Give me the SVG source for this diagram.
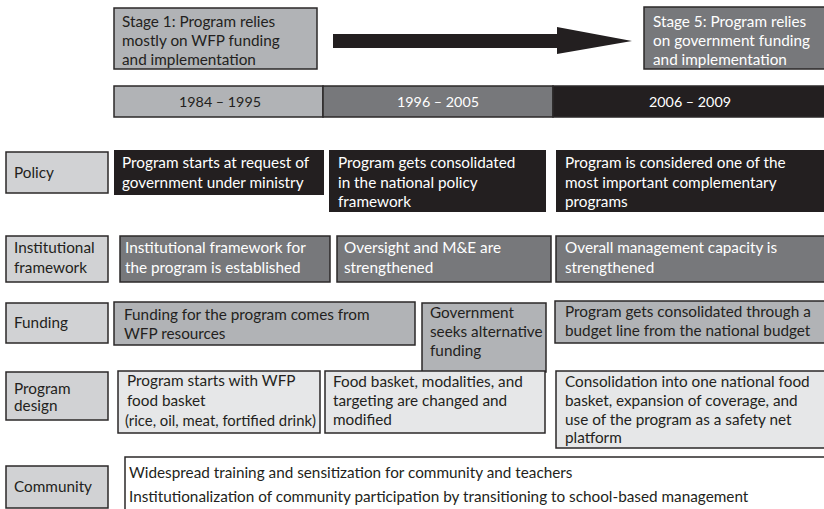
<svg xmlns="http://www.w3.org/2000/svg" width="824" height="509" viewBox="0 0 824 509">
<style>
text{font-family:Lato,"Liberation Sans",sans-serif;font-size:15.3px;fill:#231f20}
.w{fill:#ffffff}
.mid{text-anchor:middle;font-size:14.3px}
.bx{stroke:#2b2829;stroke-width:1.5}
.lbl{fill:#d1d2d4}
.lg{fill:#b1b3b6}
.dg{fill:#77787b}
.bk{fill:#231f20}
.xl{fill:#e6e7e8}
</style>
<rect width="824" height="509" fill="#ffffff"/>
<g id="stage1"><rect class="bx lg" x="114" y="8" width="203" height="61"/>
<text x="122" y="27">Stage 1: Program relies</text><text x="122" y="46">mostly on WFP funding</text><text x="122" y="65">and implementation</text></g>
<g id="stage5"><rect class="bx dg" x="644" y="7" width="182" height="62"/>
<text class="w" x="653" y="27">Stage 5: Program relies</text><text class="w" x="653" y="46">on government funding</text><text class="w" x="653" y="65">and implementation</text></g>
<g id="connectors"><rect x="333" y="34" width="225" height="14" fill="#231f20"/><polygon points="557,27 632,41 557,54" fill="#231f20"/></g>
<g id="timeline">
<rect class="bx lg" x="114" y="86" width="209" height="31"/><text class="mid" x="220" y="107">1984 – 1995</text>
<rect class="bx dg" x="323" y="86" width="230" height="31"/><text class="mid w" x="438" y="107">1996 – 2005</text>
<rect class="bx bk" x="553" y="86" width="273" height="31"/><text class="mid w" x="690" y="107">2006 – 2009</text>
</g>
<g id="label-policy"><rect class="bx lbl" x="6" y="152" width="102" height="41"/><text x="14" y="178">Policy</text></g>
<g id="policy-1"><rect class="bk" x="114" y="150" width="210" height="45"/><text class="w" x="122" y="168">Program starts at request of</text><text class="w" x="122" y="188">government under ministry</text></g>
<g id="policy-2"><rect class="bk" x="329" y="150" width="217" height="62"/><text class="w" x="338" y="168">Program gets consolidated</text><text class="w" x="338" y="188">in the national policy</text><text class="w" x="338" y="207">framework</text></g>
<g id="policy-3"><rect class="bk" x="556" y="150" width="270" height="62"/><text class="w" x="565" y="168">Program is considered one of the</text><text class="w" x="565" y="188">most important complementary</text><text class="w" x="565" y="207">programs</text></g>
<g id="label-institutional"><rect class="bx lbl" x="6" y="236" width="102" height="46"/><text x="14" y="253">Institutional</text><text x="14" y="273">framework</text></g>
<g id="inst-1"><rect class="bx dg" x="120" y="236" width="210" height="46"/><text class="w" x="125" y="253">Institutional framework for</text><text class="w" x="125" y="273">the program is established</text></g>
<g id="inst-2"><rect class="bx dg" x="337" y="236" width="214" height="46"/><text class="w" x="344" y="253">Oversight and M&amp;E are</text><text class="w" x="344" y="273">strengthened</text></g>
<g id="inst-3"><rect class="bx dg" x="556" y="236" width="270" height="46"/><text class="w" x="565" y="253">Overall management capacity is</text><text class="w" x="565" y="273">strengthened</text></g>
<g id="label-funding"><rect class="bx lbl" x="6" y="303" width="102" height="40"/><text x="14" y="328">Funding</text></g>
<g id="fund-1"><rect class="bx lg" x="114" y="302" width="301" height="43"/><text x="124" y="320">Funding for the program comes from</text><text x="124" y="339">WFP resources</text></g>
<g id="fund-2"><rect class="bx lg" x="422" y="303" width="124" height="69"/><text x="430" y="318">Government</text><text x="430" y="337">seeks alternative</text><text x="430" y="356">funding</text></g>
<g id="fund-3"><rect class="bx lg" x="555" y="301" width="271" height="42"/><text x="565" y="317">Program gets consolidated through a</text><text x="565" y="336">budget line from the national budget</text></g>
<g id="label-design"><rect class="bx lbl" x="6" y="372" width="102" height="48"/><text x="14" y="394">Program</text><text x="14" y="411">design</text></g>
<g id="design-1"><rect class="bx xl" x="118" y="371" width="202" height="62"/><text x="127" y="386">Program starts with WFP</text><text x="127" y="406">food basket</text><text x="125" y="426" textLength="191" lengthAdjust="spacingAndGlyphs">(rice, oil, meat, fortified drink)</text></g>
<g id="design-2"><rect class="bx xl" x="325" y="371" width="220" height="62"/><text x="333" y="387">Food basket, modalities, and</text><text x="333" y="406">targeting are changed and</text><text x="333" y="425">modified</text></g>
<g id="design-3"><rect class="bx xl" x="556" y="371" width="270" height="77"/><text x="565" y="387">Consolidation into one national food</text><text x="565" y="406">basket, expansion of coverage, and</text><text x="565" y="425">use of the program as a safety net</text><text x="565" y="443">platform</text></g>
<g id="label-community"><rect class="bx lbl" x="6" y="466" width="102" height="42"/><text x="14" y="492">Community</text></g>
<g id="community"><rect class="bx" fill="#ffffff" x="125" y="457" width="702" height="60"/><text x="129" y="478">Widespread training and sensitization for community and teachers</text><text x="129" y="502">Institutionalization of community participation by transitioning to school-based management</text></g>
</svg>
